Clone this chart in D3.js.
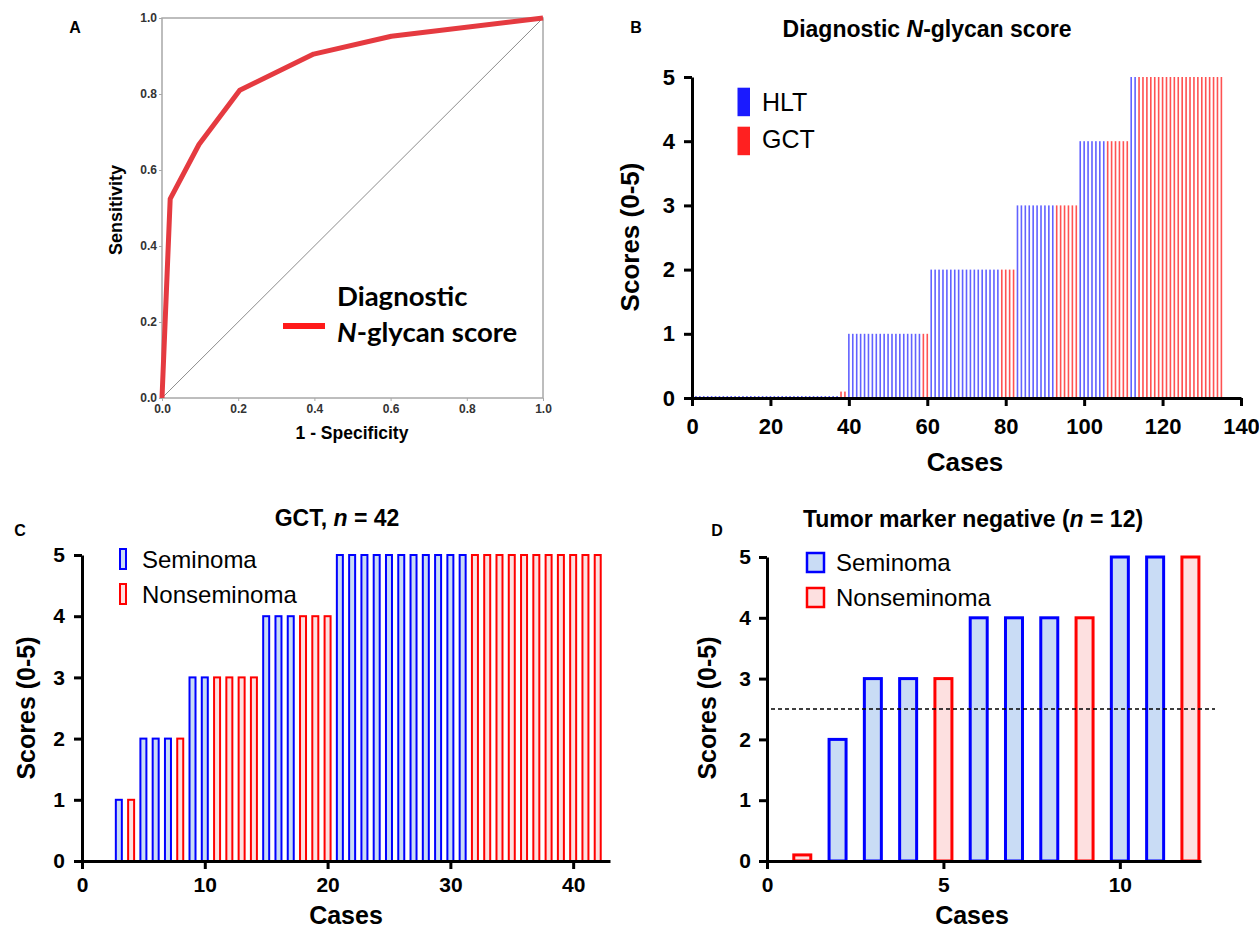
<!DOCTYPE html>
<html>
<head>
<meta charset="utf-8">
<script src="https://cdn.jsdelivr.net/npm/d3@7"></script>
<style>
  body { margin: 0; background: #fff; }
  svg { display: block; font-family: "Liberation Sans", Arial, sans-serif; }
</style>
</head>
<body>
<div id="chart"></div>
<script>
// panel A: ROC points
const rocFpr = [0, 0.0215, 0.097, 0.204, 0.398, 0.602, 1]
const rocTpr = [0, 0.524, 0.667, 0.81, 0.905, 0.952, 1]
const rocTicks = [0, 0.2, 0.4, 0.6, 0.8, 1]

// panel B: number of cases per score (0-5), HLT first then GCT
const scoreLevels = [0, 1, 2, 3, 4, 5]
const hltCounts = [37, 19, 18, 10, 7, 2]
const gctCounts = [2, 2, 4, 6, 6, 22]
const gctZeroShown = 0.1
const bTicksX = [0, 20, 40, 60, 80, 100, 120, 140]

// panel C: GCT cases, S = seminoma, N = nonseminoma
const cScores = [0, 0, 1, 1, 2, 2, 2, 2, 3, 3, 3, 3, 3, 3, 4, 4, 4, 4, 4, 4,
                 5, 5, 5, 5, 5, 5, 5, 5, 5, 5, 5, 5, 5, 5, 5, 5, 5, 5, 5, 5, 5, 5]
const cTypes = ["N", "N", "S", "N", "S", "S", "S", "N", "S", "S", "N", "N", "N", "N", "S", "S", "S", "N", "N", "N",
                "S", "S", "S", "S", "S", "S", "S", "S", "S", "S", "S", "N", "N", "N", "N", "N", "N", "N", "N", "N", "N", "N"]
const cTicksX = [0, 10, 20, 30, 40]

// panel D: tumor marker negative cases
const dScores = [0.1, 2, 3, 3, 3, 4, 4, 4, 4, 5, 5, 5]
const dTypes = ["N", "S", "S", "S", "N", "S", "S", "S", "N", "S", "S", "N"]
const dCutoff = 2.5
const dTicksX = [0, 5, 10]

const blue = "#0000ff"
const red = "#ff0000"
const blueFill = "#c9dcf5"
const redFill = "#fde0e0"

const svg = d3.select("#chart").append("svg")
              .attr("width", 1259)
              .attr("height", 931)
              .attr("viewBox", [0, 0, 1259, 931])

// panel letters
const letters = [["A", 75, 33], ["B", 636, 33], ["C", 20, 536], ["D", 717, 536]]
svg.selectAll("text.letter")
   .data(letters)
   .join("text")
   .attr("class", "letter")
   .attr("x", d => d[1])
   .attr("y", d => d[2])
   .attr("text-anchor", "middle")
   .attr("font-weight", "bold")
   .attr("font-size", "16px")
   .text(d => d[0])

// ---------- panel A ----------
const ax = d3.scaleLinear().domain([0, 1]).range([162, 543])
const ay = d3.scaleLinear().domain([0, 1]).range([398, 18])
const panelA = svg.append("g")

panelA.append("rect")
      .attr("x", ax(0))
      .attr("y", ay(1))
      .attr("width", ax(1) - ax(0))
      .attr("height", ay(0) - ay(1))
      .attr("fill", "none")
      .attr("stroke", "#a8a8a8")
      .attr("stroke-width", 1.5)

const aLeft = panelA.append("g")
                    .attr("transform", `translate(${ax(0)}, 0)`)
                    .call(d3.axisLeft(ay).tickValues(rocTicks).tickFormat(d3.format(".1f")).tickSize(3).tickPadding(2))
const aBottom = panelA.append("g")
                      .attr("transform", `translate(0, ${ay(0)})`)
                      .call(d3.axisBottom(ax).tickValues(rocTicks).tickFormat(d3.format(".1f")).tickSize(3).tickPadding(3))
for (const g of [aLeft, aBottom]) {
  g.select(".domain").remove()
  g.selectAll("line").attr("stroke", "#a8a8a8")
  g.selectAll("text")
   .attr("font-size", "12px")
   .attr("font-weight", "bold")
   .attr("font-family", "Liberation Sans, Arial, sans-serif")
   .attr("fill", "#333")
}

// reference diagonal
panelA.append("line")
      .attr("x1", ax(0)).attr("y1", ay(0))
      .attr("x2", ax(1)).attr("y2", ay(1))
      .attr("stroke", "#8c8c8c")
      .attr("stroke-width", 1)

// roc curve
const rocLine = d3.line()
                  .x((d, i) => ax(rocFpr[i]))
                  .y(d => ay(d))
panelA.append("path")
      .attr("d", rocLine(rocTpr))
      .attr("fill", "none")
      .attr("stroke", "#e53a40")
      .attr("stroke-width", 5)
      .attr("stroke-linejoin", "round")

panelA.append("text")
      .attr("x", 352)
      .attr("y", 439)
      .attr("text-anchor", "middle")
      .attr("font-weight", "bold")
      .attr("font-size", "17.5px")
      .text("1 - Specificity")
panelA.append("text")
      .attr("transform", "translate(122, 210) rotate(-90)")
      .attr("text-anchor", "middle")
      .attr("font-weight", "bold")
      .attr("font-size", "18px")
      .text("Sensitivity")

// legend of panel A
panelA.append("line")
      .attr("x1", 283).attr("x2", 325)
      .attr("y1", 326).attr("y2", 326)
      .attr("stroke", "#ff1a1a")
      .attr("stroke-width", 6)
const aLegend = panelA.append("text")
                      .attr("font-family", "Lato, sans-serif")
                      .attr("font-weight", "bold")
                      .attr("font-size", "27.5px")
aLegend.append("tspan").attr("x", 337).attr("y", 306).text("Diagnostic")
aLegend.append("tspan").attr("x", 337).attr("y", 342).attr("font-style", "italic").text("N")
aLegend.append("tspan").text("-glycan score")

// ---------- shared helpers for score panels ----------
function scoreAxes(g, x, y, ticksX, fontSize, padX, padY) {
  const xAxis = g.append("g")
                 .attr("transform", `translate(0, ${y(0)})`)
                 .call(d3.axisBottom(x).tickValues(ticksX).tickFormat(d3.format("d")).tickSize(8).tickSizeOuter(0).tickPadding(padX))
  const yAxis = g.append("g")
                 .attr("transform", `translate(${x(0)}, 0)`)
                 .call(d3.axisLeft(y).tickValues(scoreLevels).tickFormat(d3.format("d")).tickSize(8).tickSizeOuter(0).tickPadding(padY))
  for (const a of [xAxis, yAxis]) {
    a.select(".domain").attr("stroke", "#000").attr("stroke-width", 3)
    a.selectAll(".tick line").attr("stroke", "#000").attr("stroke-width", 3)
    a.selectAll("text")
     .attr("font-size", fontSize + "px")
     .attr("font-weight", "bold")
     .attr("font-family", "Liberation Sans, Arial, sans-serif")
     .attr("fill", "#000")
  }
}

function axisTitles(g, xCenter, xBaseline, yCenterX, yCenterY, size) {
  g.append("text")
   .attr("x", xCenter)
   .attr("y", xBaseline)
   .attr("text-anchor", "middle")
   .attr("font-weight", "bold")
   .attr("font-size", size + "px")
   .text("Cases")
  g.append("text")
   .attr("transform", `translate(${yCenterX}, ${yCenterY}) rotate(-90)`)
   .attr("text-anchor", "middle")
   .attr("dy", "0.35em")
   .attr("font-weight", "bold")
   .attr("font-size", size + "px")
   .text("Scores (0-5)")
}

function title(g, cx, baseline, before, italic, after) {
  const t = g.append("text")
             .attr("x", cx)
             .attr("y", baseline)
             .attr("text-anchor", "middle")
             .attr("font-weight", "bold")
             .attr("font-size", "23px")
  t.append("tspan").text(before)
  t.append("tspan").attr("font-style", "italic").text(italic)
  t.append("tspan").text(after)
}

// ---------- panel B ----------
const bCases = []
scoreLevels.forEach((s, k) => {
  for (let i = 0; i < hltCounts[k]; i++) bCases.push({group: "HLT", score: s})
  for (let i = 0; i < gctCounts[k]; i++) bCases.push({group: "GCT", score: s === 0 ? gctZeroShown : s})
})
const bx = d3.scaleLinear().domain([0, 140]).range([692, 1241])
const by = d3.scaleLinear().domain([0, 5]).range([398, 77])
const panelB = svg.append("g")

panelB.selectAll("rect.bar")
      .data(bCases)
      .join("rect")
      .attr("class", "bar")
      .attr("x", (d, i) => bx(i + 1) - 0.8)
      .attr("width", 1.6)
      .attr("y", d => Math.min(by(d.score), by(0) - 2))
      .attr("height", d => Math.max(by(0) - by(d.score), 2))
      .attr("fill", d => d.group === "HLT" ? "#6262ff" : "#ff5252")

scoreAxes(panelB, bx, by, bTicksX, 22, 12, 9)
axisTitles(panelB, 965, 471, 630, 237, 26)
title(panelB, 927, 37, "Diagnostic ", "N", "-glycan score")

const bLegend = [["HLT", "#1a1aff", 87.7, 111], ["GCT", "#ff2020", 126.7, 148]]
panelB.selectAll("rect.legend")
      .data(bLegend)
      .join("rect")
      .attr("class", "legend")
      .attr("x", 737.5)
      .attr("y", d => d[2])
      .attr("width", 12.5)
      .attr("height", 28.5)
      .attr("fill", d => d[1])
panelB.selectAll("text.legend")
      .data(bLegend)
      .join("text")
      .attr("class", "legend")
      .attr("x", 762)
      .attr("y", d => d[3])
      .attr("font-size", "25px")
      .text(d => d[0])

// ---------- panel C ----------
const cx = d3.scaleLinear().domain([0, 43]).range([82, 610])
const cy = d3.scaleLinear().domain([0, 5]).range([861, 555])
const panelC = svg.append("g")

panelC.selectAll("rect.bar")
      .data(cScores.map((s, i) => ({score: s, type: cTypes[i], n: i + 1})).filter(d => d.score > 0))
      .join("rect")
      .attr("class", "bar")
      .attr("x", d => cx(d.n) - 3)
      .attr("width", 6)
      .attr("y", d => cy(d.score))
      .attr("height", d => cy(0) - cy(d.score))
      .attr("fill", d => d.type === "S" ? blueFill : redFill)
      .attr("stroke", d => d.type === "S" ? blue : red)
      .attr("stroke-width", 2)

scoreAxes(panelC, cx, cy, cTicksX, 21, 8, 9)
axisTitles(panelC, 346, 924, 26, 708, 25)
title(panelC, 337, 526, "GCT, ", "n", " = 42")

const cLegend = [["Seminoma", blue, blueFill, 549, 568], ["Nonseminoma", red, redFill, 584, 603]]
panelC.selectAll("rect.legend")
      .data(cLegend)
      .join("rect")
      .attr("class", "legend")
      .attr("x", 120)
      .attr("y", d => d[3])
      .attr("width", 6)
      .attr("height", 20)
      .attr("fill", d => d[2])
      .attr("stroke", d => d[1])
      .attr("stroke-width", 2)
panelC.selectAll("text.legend")
      .data(cLegend)
      .join("text")
      .attr("class", "legend")
      .attr("x", 142)
      .attr("y", d => d[4])
      .attr("font-size", "24px")
      .text(d => d[0])

// ---------- panel D ----------
const dx = d3.scaleLinear().domain([0, 12.3]).range([767, 1201])
const dy = d3.scaleLinear().domain([0, 5]).range([861, 557])
const panelD = svg.append("g")

panelD.selectAll("rect.bar")
      .data(dScores.map((s, i) => ({score: s, type: dTypes[i], n: i + 1})))
      .join("rect")
      .attr("class", "bar")
      .attr("x", d => dx(d.n) - 8.5)
      .attr("width", 17)
      .attr("y", d => dy(d.score))
      .attr("height", d => dy(0) - dy(d.score))
      .attr("fill", d => d.type === "S" ? blueFill : redFill)
      .attr("stroke", d => d.type === "S" ? blue : red)
      .attr("stroke-width", 3)

panelD.append("line")
      .attr("x1", 771).attr("x2", 1215)
      .attr("y1", dy(dCutoff)).attr("y2", dy(dCutoff))
      .attr("stroke", "#000")
      .attr("stroke-width", 1.5)
      .attr("stroke-dasharray", "4,3")

scoreAxes(panelD, dx, dy, dTicksX, 21, 8, 8)
axisTitles(panelD, 972, 924, 707, 708, 25)
title(panelD, 973, 527, "Tumor marker negative (", "n", " = 12)")

const dLegend = [["Seminoma", blue, blueFill, 553, 571], ["Nonseminoma", red, redFill, 588, 606]]
panelD.selectAll("rect.legend")
      .data(dLegend)
      .join("rect")
      .attr("class", "legend")
      .attr("x", 807)
      .attr("y", d => d[3])
      .attr("width", 17)
      .attr("height", 19)
      .attr("fill", d => d[2])
      .attr("stroke", d => d[1])
      .attr("stroke-width", 2.5)
panelD.selectAll("text.legend")
      .data(dLegend)
      .join("text")
      .attr("class", "legend")
      .attr("x", 836)
      .attr("y", d => d[4])
      .attr("font-size", "24px")
      .text(d => d[0])
</script>
</body>
</html>
